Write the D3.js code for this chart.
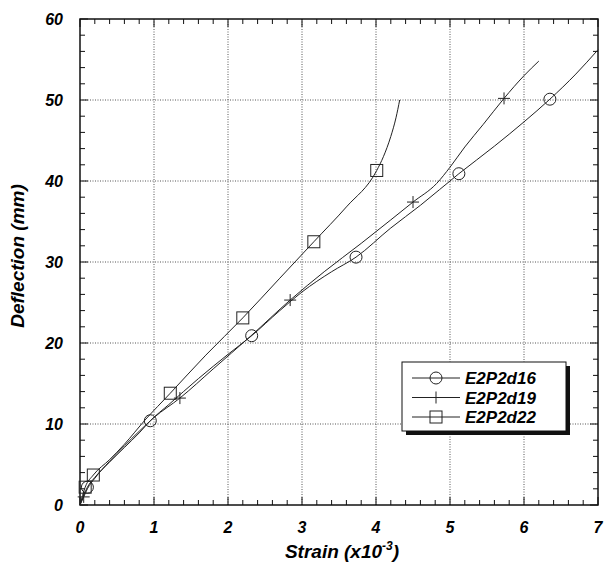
<!DOCTYPE html>
<html>
<head>
<meta charset="utf-8">
<script src="https://cdn.jsdelivr.net/npm/d3@7"></script>
<style>
  body { margin: 0; background: #fff; }
  text { font-family: "Liberation Sans", Arial, sans-serif; font-weight: bold; font-style: italic; }
</style>
</head>
<body>
<div id="canvas"></div>
<script>
(function (d3) {
  'use strict';

  const width = 606;
  const height = 565;
  const margin = { left: 80, right: 8, top: 19, bottom: 60 };

  // series data: strain (x10^-3) and deflection (mm)
  const seriesNames = ['E2P2d16', 'E2P2d19', 'E2P2d22'];

  const d16Strain = [0, 0.05, 0.1, 0.2, 0.4, 0.6, 0.8, 0.95, 1.2, 1.6, 2.0, 2.32, 2.7, 3.0, 3.4, 3.73, 4.2, 4.6, 5.12, 5.6, 6.0, 6.35, 6.7, 7.0];
  const d16Defl = [0, 1.2, 2.2, 3.4, 5.3, 7.1, 8.9, 10.4, 12.4, 15.6, 18.6, 20.9, 24.0, 26.3, 28.8, 30.6, 34.2, 37.0, 40.9, 44.3, 47.3, 50.1, 53.2, 56.2];
  const d16MarkStrain = [0.1, 0.95, 2.32, 3.73, 5.12, 6.35];
  const d16MarkDefl = [2.2, 10.4, 20.9, 30.6, 40.9, 50.1];

  const d19Strain = [0, 0.05, 0.1, 0.2, 0.4, 0.6, 0.8, 1.0, 1.35, 1.8, 2.3, 2.84, 3.3, 3.8, 4.2, 4.5, 4.82, 5.0, 5.2, 5.45, 5.73, 6.0, 6.2];
  const d19Defl = [0, 1.0, 2.0, 3.3, 5.4, 7.3, 9.1, 10.8, 13.2, 16.8, 20.8, 25.3, 28.8, 32.3, 35.2, 37.4, 39.7, 41.7, 44.2, 47.0, 50.2, 53.0, 54.8];
  const d19MarkStrain = [0.05, 1.35, 2.84, 4.5, 5.73];
  const d19MarkDefl = [1.0, 13.2, 25.3, 37.4, 50.2];

  const d22Strain = [0, 0.07, 0.18, 0.4, 0.6, 0.88, 1.22, 1.7, 2.2, 2.7, 3.16, 3.6, 4.01, 4.1, 4.2, 4.27, 4.32];
  const d22Defl = [0, 2.2, 3.7, 5.6, 7.5, 10.5, 13.8, 18.5, 23.1, 28.0, 32.5, 36.8, 41.3, 43.0, 45.5, 47.8, 50.0];
  const d22MarkStrain = [0.07, 0.18, 1.22, 2.2, 3.16, 4.01];
  const d22MarkDefl = [2.2, 3.7, 13.8, 23.1, 32.5, 41.3];

  const xTicks = [0, 1, 2, 3, 4, 5, 6, 7];
  const yTicks = [0, 10, 20, 30, 40, 50, 60];

  const zip = (xs, ys) => xs.map((x, i) => ({ x: x, y: ys[i] }));

  const series = [
    { name: seriesNames[0], line: zip(d16Strain, d16Defl), marks: zip(d16MarkStrain, d16MarkDefl), symbol: 'circle' },
    { name: seriesNames[1], line: zip(d19Strain, d19Defl), marks: zip(d19MarkStrain, d19MarkDefl), symbol: 'plus' },
    { name: seriesNames[2], line: zip(d22Strain, d22Defl), marks: zip(d22MarkStrain, d22MarkDefl), symbol: 'square' }
  ];

  const svg = d3.select('#canvas')
    .append('svg')
    .attr('width', width)
    .attr('height', height);

  const x = d3.scaleLinear().domain([0, 7]).range([margin.left, width - margin.right]);
  const y = d3.scaleLinear().domain([0, 60]).range([height - margin.bottom, margin.top]);
  const x0 = x.range()[0], x1 = x.range()[1];
  const y0 = y.range()[0], y1 = y.range()[1];

  // grid
  const grid = svg.append('g').attr('stroke', '#555').attr('stroke-width', 1).attr('stroke-dasharray', '1,1.5');
  grid.selectAll('.gx').data(xTicks.slice(1, -1)).enter().append('line')
    .attr('x1', d => x(d)).attr('x2', d => x(d)).attr('y1', y0).attr('y2', y1);
  grid.selectAll('.gy').data(yTicks.slice(1, -1)).enter().append('line')
    .attr('y1', d => y(d)).attr('y2', d => y(d)).attr('x1', x0).attr('x2', x1);

  // inward ticks on all four sides
  const xMinor = d3.range(0, 7.001, 0.2);
  const yMinor = d3.range(0, 60.001, 2);
  const ticks = svg.append('g').attr('stroke', '#111').attr('stroke-width', 1);
  xMinor.forEach(v => {
    const len = Math.abs(v - Math.round(v)) < 1e-6 ? 8 : 5;
    ticks.append('line').attr('x1', x(v)).attr('x2', x(v)).attr('y1', y0).attr('y2', y0 - len);
    ticks.append('line').attr('x1', x(v)).attr('x2', x(v)).attr('y1', y1).attr('y2', y1 + len);
  });
  yMinor.forEach(v => {
    const len = v % 10 === 0 ? 8 : 5;
    ticks.append('line').attr('y1', y(v)).attr('y2', y(v)).attr('x1', x0).attr('x2', x0 + len);
    ticks.append('line').attr('y1', y(v)).attr('y2', y(v)).attr('x1', x1).attr('x2', x1 - len);
  });

  // frame
  svg.append('rect')
    .attr('x', x0).attr('y', y1).attr('width', x1 - x0).attr('height', y0 - y1)
    .attr('fill', 'none').attr('stroke', '#111').attr('stroke-width', 1.5);

  // tick labels
  svg.selectAll('.xl').data(xTicks).enter().append('text')
    .attr('x', d => x(d)).attr('y', y0 + 28)
    .attr('text-anchor', 'middle').style('font-size', '16px').text(d => d);
  svg.selectAll('.yl').data(yTicks).enter().append('text')
    .attr('x', x0 - 17).attr('y', d => y(d) + 6)
    .attr('text-anchor', 'end').style('font-size', '16px').text(d => d);

  // axis titles
  const xt = svg.append('text').attr('x', (x0 + x1) / 2 + 3).attr('y', 558)
    .attr('text-anchor', 'middle').style('font-size', '19px');
  xt.append('tspan').text('Strain (x10');
  xt.append('tspan').attr('dy', -8).style('font-size', '12px').text('-3');
  xt.append('tspan').attr('dy', 8).text(')');

  svg.append('text')
    .attr('transform', `translate(24, ${(y0 + y1) / 2 - 6}) rotate(-90)`)
    .attr('text-anchor', 'middle').style('font-size', '19px')
    .text('Deflection (mm)');

  // series
  const line = d3.line().x(d => x(d.x)).y(d => y(d.y)).curve(d3.curveMonotoneX);
  const drawSymbol = (g, sym, cx, cy) => {
    if (sym === 'circle') {
      g.append('circle').attr('cx', cx).attr('cy', cy).attr('r', 6)
        .attr('fill', 'none').attr('stroke', '#222').attr('stroke-width', 1);
    } else if (sym === 'square') {
      g.append('rect').attr('x', cx - 6).attr('y', cy - 6).attr('width', 12).attr('height', 12)
        .attr('fill', 'none').attr('stroke', '#222').attr('stroke-width', 1);
    } else {
      g.append('path').attr('d', `M${cx - 6},${cy}H${cx + 6}M${cx},${cy - 6}V${cy + 6}`)
        .attr('stroke', '#222').attr('stroke-width', 1);
    }
  };

  series.forEach(s => {
    const g = svg.append('g');
    g.append('path').datum(s.line).attr('d', line)
      .attr('fill', 'none').attr('stroke', '#222').attr('stroke-width', 1);
    s.marks.forEach(p => drawSymbol(g, s.symbol, x(p.x), y(p.y)));
  });

  // legend
  const lg = { x: 402, y: 362, w: 164, h: 69 };
  svg.append('rect').attr('x', lg.x + 4).attr('y', lg.y + 4).attr('width', lg.w).attr('height', lg.h).attr('fill', '#111');
  svg.append('rect').attr('x', lg.x).attr('y', lg.y).attr('width', lg.w).attr('height', lg.h)
    .attr('fill', '#fff').attr('stroke', '#111').attr('stroke-width', 1);
  series.forEach((s, i) => {
    const ly = lg.y + 16 + i * 19.5;
    const g = svg.append('g');
    g.append('line').attr('x1', lg.x + 10).attr('x2', lg.x + 58).attr('y1', ly).attr('y2', ly)
      .attr('stroke', '#222').attr('stroke-width', 1);
    drawSymbol(g, s.symbol, lg.x + 34, ly);
    g.append('text').attr('x', lg.x + 63).attr('y', ly + 6).style('font-size', '17px').text(s.name);
  });

}(d3));
</script>
</body>
</html>
